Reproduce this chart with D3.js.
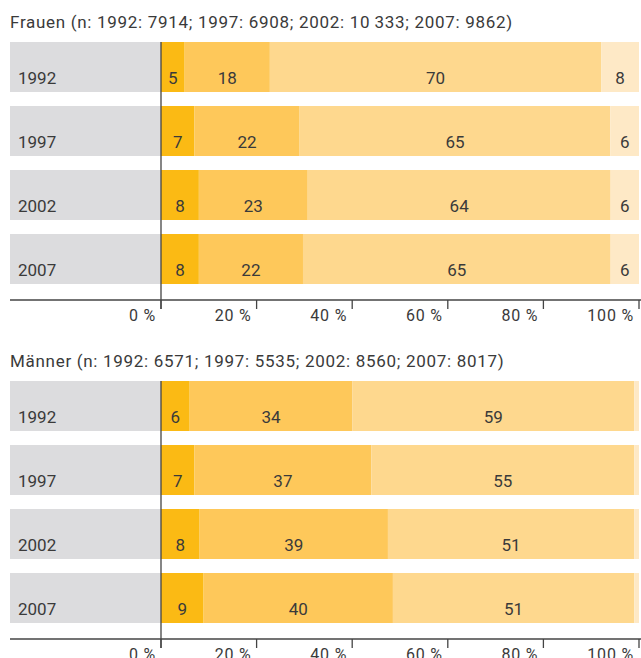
<!DOCTYPE html>
<html>
<head>
<meta charset="utf-8">
<script src="https://cdn.jsdelivr.net/npm/d3@7"></script>
<style>
  body { margin: 0; background: #fff; }
  text { font-family: Roboto, "DejaVu Sans", sans-serif; fill: #3a3a3a; }
</style>
</head>
<body>
<svg id="chart"></svg>
<script>
// values
const years = ["1992", "1997", "2002", "2007"];
const frauenTitle = "Frauen (n: 1992: 7914; 1997: 6908; 2002: 10\u2009333; 2007: 9862)";
const maennerTitle = "Männer (n: 1992: 6571; 1997: 5535; 2002: 8560; 2007: 8017)";
const frauen = [[5, 18, 70, 8], [7, 22, 65, 6], [8, 23, 64, 6], [8, 22, 65, 6]];
const maenner = [[6, 34, 59, 1], [7, 37, 55, 1], [8, 39, 51, 1], [9, 40, 51, 1]];
const ticks = [0, 20, 40, 60, 80, 100];
const colors = ["#fbba14", "#fec85a", "#fed88e", "#fee9c6"];

const W = 641, H = 658;
const svg = d3.select("#chart").attr("width", W).attr("height", H);

const x = d3.scaleLinear().domain([0, 100]).range([161, 639]);

function panel(title, rows, top) {
  const g = svg.append("g");
  const y = d3.scaleBand()
    .domain(years)
    .range([top, top + 242])
    .paddingInner(14 / 64)
    .paddingOuter(0);
  const axisY = top + 258;

  g.append("text")
    .attr("x", 10)
    .attr("y", top - 14)
    .style("font-size", "17px")
    .style("letter-spacing", "0.7px")
    .text(title);

  // grey label area
  g.selectAll(".bg")
    .data(years)
    .join("rect")
    .attr("x", 10)
    .attr("y", d => y(d))
    .attr("width", x(0) - 10)
    .attr("height", y.bandwidth())
    .attr("fill", "#dcdcde");

  g.selectAll(".year")
    .data(years)
    .join("text")
    .attr("x", 18)
    .attr("y", d => y(d) + 42)
    .style("font-size", "17px")
    .text(d => d);

  rows.forEach((vals, i) => {
    const total = d3.sum(vals);
    let acc = 0;
    const segs = vals.map((v, j) => {
      const s = { v, j, x0: acc / total * 100, x1: (acc + v) / total * 100 };
      acc += v;
      return s;
    });
    const row = g.append("g");
    row.selectAll("rect")
      .data(segs)
      .join("rect")
      .attr("x", d => x(d.x0))
      .attr("y", y(years[i]))
      .attr("width", d => x(d.x1) - x(d.x0))
      .attr("height", y.bandwidth())
      .attr("fill", d => colors[d.j]);
    row.selectAll("text")
      .data(segs.filter(d => d.v >= 3))
      .join("text")
      .attr("x", d => (x(d.x0) + x(d.x1)) / 2)
      .attr("y", y(years[i]) + 42)
      .attr("text-anchor", "middle")
      .style("font-size", "17px")
      .text(d => d.v);
  });

  // axis
  g.append("line")
    .attr("x1", 10).attr("x2", W)
    .attr("y1", axisY).attr("y2", axisY)
    .attr("stroke", "#444").attr("stroke-width", 1.3);
  g.selectAll(".tick")
    .data(ticks)
    .join("line")
    .attr("x1", d => x(d)).attr("x2", d => x(d))
    .attr("y1", axisY).attr("y2", axisY + 9)
    .attr("stroke", "#444").attr("stroke-width", 1.3);
  g.selectAll(".ticklabel")
    .data(ticks)
    .join("text")
    .attr("x", d => x(d) - 5)
    .attr("y", axisY + 21)
    .attr("text-anchor", "end")
    .style("font-size", "16px")
    .style("letter-spacing", "0.8px")
    .text(d => d + " %");

  // zero line
  g.append("line")
    .attr("x1", x(0)).attr("x2", x(0))
    .attr("y1", top).attr("y2", axisY + 9)
    .attr("stroke", "#444").attr("stroke-width", 1.3);
}

panel(frauenTitle, frauen, 42);
panel(maennerTitle, maenner, 381);
</script>
</body>
</html>
